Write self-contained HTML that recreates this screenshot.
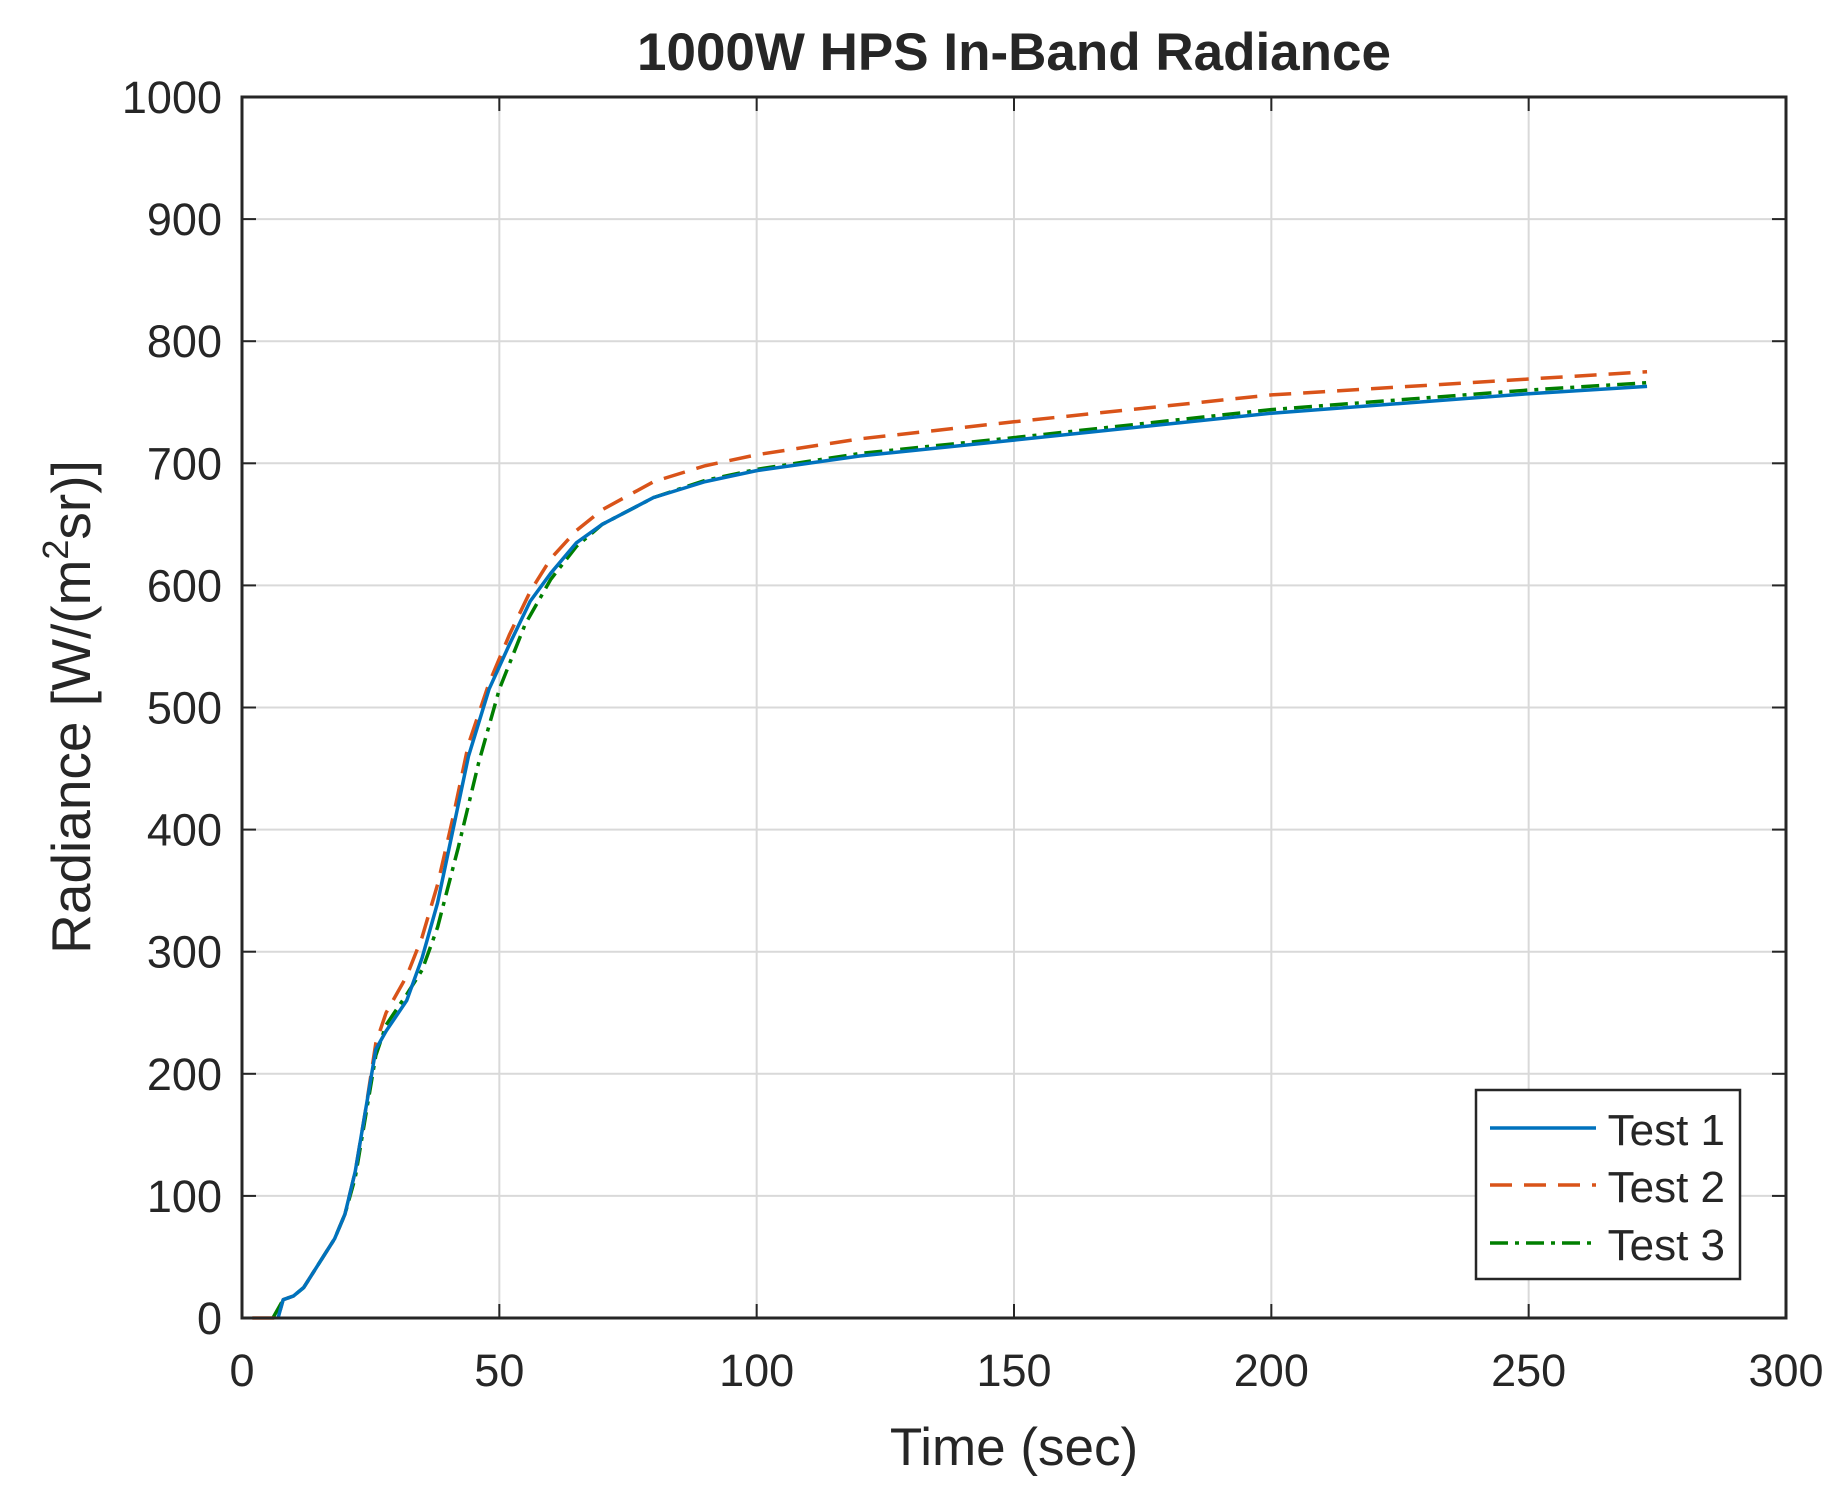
<!DOCTYPE html>
<html><head><meta charset="utf-8"><style>
html,body{margin:0;padding:0;background:#fff;}
svg{display:block;}
text{font-family:"Liberation Sans",sans-serif;fill:#262626;}
</style></head><body>
<svg id="s" width="1844" height="1495" viewBox="0 0 1844 1495" xmlns="http://www.w3.org/2000/svg">
<rect width="1844" height="1495" fill="#fff"/>
<g id="grid" stroke="#d9d9d9" stroke-width="2"></g>
<g id="ticks" stroke="#262626" stroke-width="2"></g>
<g id="labels" font-size="45"></g>
<g id="series" fill="none" stroke-width="3.5"></g>
<rect x="242" y="97" width="1544" height="1221" fill="none" stroke="#262626" stroke-width="3"/>
<text x="1014" y="70" font-size="53" font-weight="bold" text-anchor="middle" fill="#000">1000W HPS In-Band Radiance</text>
<text x="1014" y="1465" font-size="53" text-anchor="middle">Time (sec)</text>
<text transform="translate(90,707) rotate(-90)" font-size="55" text-anchor="middle">Radiance [W/(m<tspan dy="-22" font-size="36">2</tspan><tspan dy="22">sr)]</tspan></text>
<rect x="1476" y="1090" width="264" height="189" fill="#fff" stroke="#262626" stroke-width="2.5"/>
<line x1="1490" y1="1128" x2="1596" y2="1128" stroke="#0072bd" stroke-width="3.5"/>
<line x1="1490" y1="1185" x2="1596" y2="1185" stroke="#d95319" stroke-width="3.5" stroke-dasharray="22,12"/>
<line x1="1490" y1="1243" x2="1596" y2="1243" stroke="#007f00" stroke-width="3.5" stroke-dasharray="18,7,4,7"/>
<text x="1725" y="1145" font-size="44" text-anchor="end">Test 1</text>
<text x="1725" y="1202" font-size="44" text-anchor="end">Test 2</text>
<text x="1725" y="1260" font-size="44" text-anchor="end">Test 3</text>
</svg>
<script>
const L=242,R=1786,T=97,B=1318;
const X=t=>L+(R-L)*t/300, Y=v=>B-(B-T)*v/1000;
const NS="http://www.w3.org/2000/svg";
function el(p,n,a,txt){const e=document.createElementNS(NS,n);for(const k in a)e.setAttribute(k,a[k]);if(txt!==undefined)e.textContent=txt;document.getElementById(p).appendChild(e);}
for(let t=50;t<300;t+=50){el("grid","line",{x1:X(t),x2:X(t),y1:T,y2:B});}
for(let v=100;v<1000;v+=100){el("grid","line",{x1:L,x2:R,y1:Y(v),y2:Y(v)});}
for(let t=0;t<=300;t+=50){el("ticks","line",{x1:X(t),x2:X(t),y1:B,y2:B-14});el("ticks","line",{x1:X(t),x2:X(t),y1:T,y2:T+14});el("labels","text",{x:X(t),y:B+68,"text-anchor":"middle"},String(t));}
for(let v=0;v<=1000;v+=100){el("ticks","line",{x1:L,x2:L+14,y1:Y(v),y2:Y(v)});el("ticks","line",{x1:R,x2:R-14,y1:Y(v),y2:Y(v)});el("labels","text",{x:L-20,y:Y(v)+16,"text-anchor":"end"},String(v));}
const d1=[[7,0],[8,15],[10,18],[12,25],[15,45],[18,65],[20,85],[22,120],[24,170],[26,220],[28,235],[32,260],[35,295],[38,340],[41,400],[44,460],[48,515],[52,552],[56,587],[60,610],[65,635],[70,650],[80,672],[90,685],[100,694],[120,706],[150,719],[200,741],[250,757],[273,763]];
const d2=[[2,0],[7,0],[8,15],[10,18],[12,25],[15,45],[18,65],[20,85],[22,120],[24,170],[26,225],[28,250],[32,280],[35,312],[38,355],[41,410],[44,470],[48,520],[52,560],[56,595],[60,622],[65,645],[70,662],[80,685],[90,698],[100,707],[120,720],[150,734],[200,756],[250,769],[273,775]];
const d3=[[6,0],[8,15],[10,18],[12,25],[15,45],[18,65],[20,85],[22,115],[24,165],[26,215],[28,240],[32,265],[35,285],[38,320],[42,385],[46,455],[50,515],[55,568],[60,605],[65,632],[70,650],[80,672],[90,686],[100,695],[120,708],[150,721],[200,744],[250,760],[273,766]];
function path(d,c,dash){el("series","polyline",{points:d.map(p=>X(p[0])+","+Y(p[1])).join(" "),stroke:c,"stroke-dasharray":dash||"none","stroke-linejoin":"round"});}
path(d3,"#007f00","18,7,4,7");path(d2,"#d95319","22,12");path(d1,"#0072bd");
</script>
</body></html>
